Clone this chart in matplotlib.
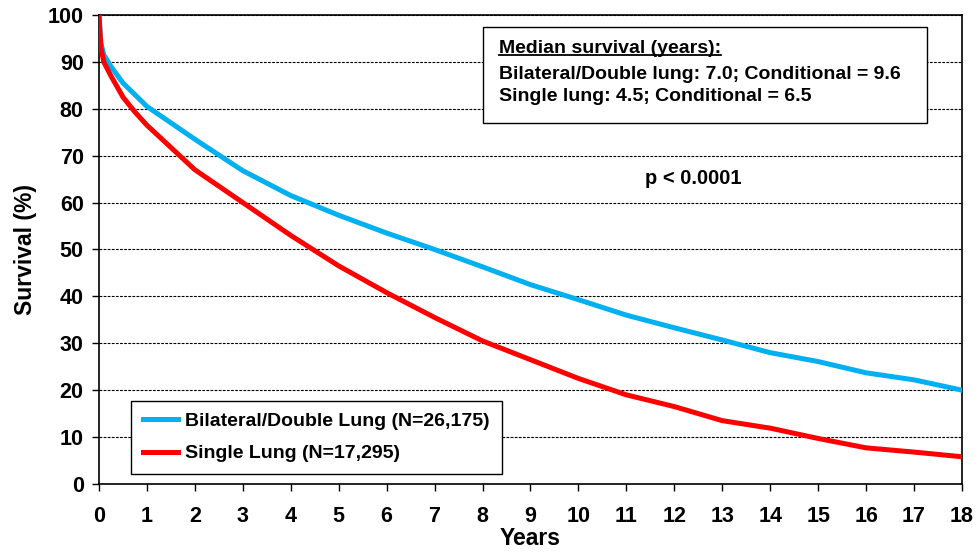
import numpy as np
import matplotlib
matplotlib.use("Agg")
import matplotlib.pyplot as plt
from matplotlib.patches import Rectangle

plt.rcParams["font.family"] = ["Liberation Sans", "DejaVu Sans"]
plt.rcParams["font.weight"] = "bold"

# Kaplan-Meier style survival curves
years_double = [0, 0.04, 0.1, 0.25, 0.5, 0.75, 1, 2, 3, 4, 5, 6, 7, 8, 9,
                10, 11, 12, 13, 14, 15, 16, 17, 18]
surv_double = [100, 94, 91.5, 89, 85.5, 83, 80.5, 73.5, 66.8, 61.5, 57.3, 53.5,
               50, 46.3, 42.5, 39.3, 36, 33.3, 30.7, 28, 26.1, 23.7, 22.2, 20]
years_single = [0, 0.04, 0.1, 0.25, 0.5, 0.75, 1, 2, 3, 4, 5, 6, 7, 8, 9,
                10, 11, 12, 13, 14, 15, 16, 17, 18]
surv_single = [100, 93, 90, 87, 82.5, 79.3, 76.5, 67, 60, 53, 46.5, 40.8, 35.5,
               30.5, 26.5, 22.5, 19, 16.5, 13.5, 11.9, 9.7, 7.7, 6.8, 5.8]

label_double = "Bilateral/Double Lung (N=26,175)"
label_single = "Single Lung (N=17,295)"
box_title = "Median survival (years):"
box_lines = ["Bilateral/Double lung: 7.0; Conditional = 9.6",
             "Single lung: 4.5; Conditional = 6.5"]
p_text = "p < 0.0001"

fig = plt.figure(figsize=(9.78, 5.55), dpi=100)
ax = fig.add_axes([0.1012, 0.128, 0.8824, 0.845])

ax.plot(years_double, surv_double, color="#00B0F0", lw=3.6,
        label=label_double, solid_joinstyle="round", zorder=3)
ax.plot(years_single, surv_single, color="#FF0000", lw=3.6,
        label=label_single, solid_joinstyle="round", zorder=3)

ax.set_xlim(0, 18)
ax.set_ylim(0, 100)
ax.set_xticks(range(0, 19))
ax.set_yticks(range(0, 101, 10))
ax.tick_params(axis="both", direction="out", length=5, width=1,
               labelsize=15.5, colors="black")
for lab in ax.get_xticklabels() + ax.get_yticklabels():
    lab.set_fontweight("bold")
ax.tick_params(axis="x", pad=11)
ax.tick_params(axis="y", pad=6)

ax.yaxis.grid(True, color="black", linestyle=(0, (2.5, 1.2)), linewidth=0.8)
ax.set_axisbelow(True)
for s in ax.spines.values():
    s.set_linewidth(1.2)
    s.set_color("black")

ax.set_xlabel("Years", fontsize=16.5, fontweight="bold", labelpad=0)
ax.set_ylabel("Survival (%)", fontsize=16.5, fontweight="bold", labelpad=8)

leg = ax.legend(loc="lower left", bbox_to_anchor=(0.037, 0.021),
                borderaxespad=0, fancybox=False, edgecolor="black",
                framealpha=1, fontsize=14, handlelength=1.8,
                handletextpad=0.4, labelspacing=0.75, borderpad=0.6)
leg.get_frame().set_linewidth(1.0)
for t in leg.get_texts():
    t.set_fontweight("bold")

# median survival box
ax.add_patch(Rectangle((0.445, 0.770), 0.5144, 0.204, transform=ax.transAxes,
                       facecolor="white", edgecolor="black", lw=1.0, zorder=4))
t0 = ax.text(0.463, 0.928, box_title, transform=ax.transAxes, fontsize=14,
             fontweight="bold", va="center", ha="left", zorder=5)
ax.text(0.463, 0.874, box_lines[0], transform=ax.transAxes, fontsize=14,
        fontweight="bold", va="center", ha="left", zorder=5)
ax.text(0.463, 0.826, box_lines[1], transform=ax.transAxes, fontsize=14,
        fontweight="bold", va="center", ha="left", zorder=5)

# underline the box title
fig.canvas.draw()
bb = t0.get_window_extent().transformed(ax.transAxes.inverted())
ax.plot([bb.x0, bb.x1], [bb.y0 + 0.004, bb.y0 + 0.004], color="black",
        lw=1.3, transform=ax.transAxes, zorder=5, clip_on=False)

ax.text(12.4, 65.2, p_text, fontsize=14.5, fontweight="bold",
        ha="center", va="center")

fig.savefig("out.png", dpi=100)
